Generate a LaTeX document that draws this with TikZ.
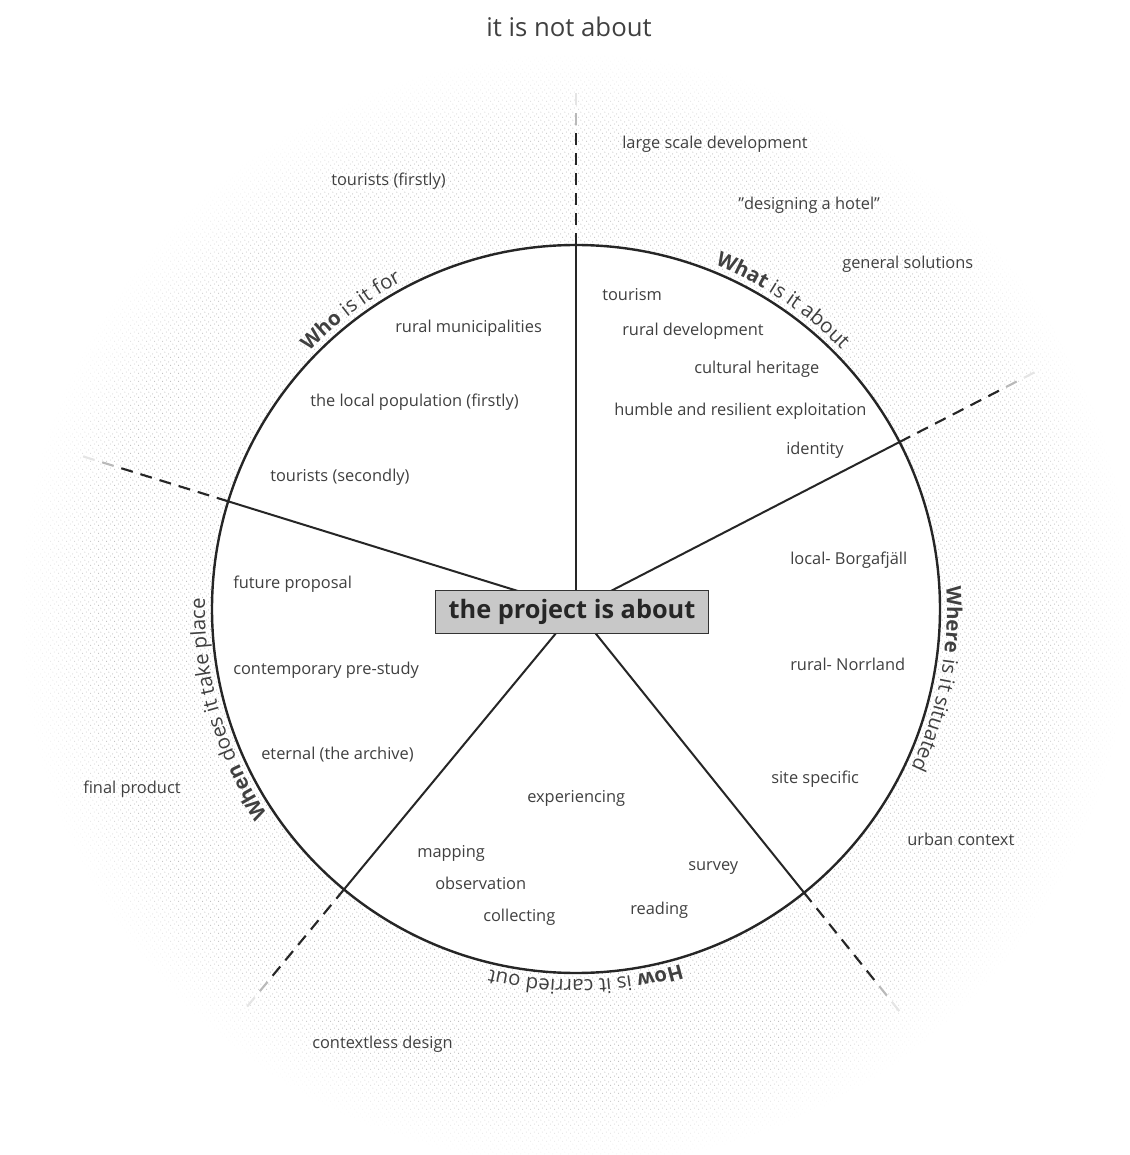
\documentclass[tikz,border=0pt]{standalone}
\usepackage{fontspec}
\setmainfont{Open Sans}
\usepackage{tikz}
\usetikzlibrary{decorations.text,patterns,fadings}

\definecolor{ink}{HTML}{404040}
\definecolor{hubgray}{HTML}{C8C8C8}

\pgfdeclarepatternformonly{stipple}{\pgfqpoint{-1pt}{-1pt}}{\pgfqpoint{7pt}{7pt}}{\pgfqpoint{6pt}{6pt}}{%
  \pgfpathcircle{\pgfqpoint{0.5pt}{0.8pt}}{0.4pt}%
  \pgfpathcircle{\pgfqpoint{3.6pt}{2.1pt}}{0.4pt}%
  \pgfpathcircle{\pgfqpoint{1.9pt}{4.3pt}}{0.4pt}%
  \pgfpathcircle{\pgfqpoint{4.8pt}{5.2pt}}{0.4pt}%
  \pgfusepath{fill}}

\newcommand{\bodyfont}{\fontsize{12.3}{14}\selectfont}
\newcommand{\arcfont}{\fontsize{15.3}{17}\selectfont\color{ink}}

\tikzset{
  item/.style={anchor=mid west, inner sep=0pt, yshift=-2.25pt, text=ink, font=\bodyfont},
  hub/.style={draw=black!80, fill=hubgray, line width=0.9pt, minimum width=205pt,
    minimum height=32pt, inner sep=0pt, font=\fontsize{19}{21}\selectfont\bfseries, text=black!85},
  spoke/.style={line width=1.5pt, black!85},
  rimdash/.style={line width=1.6pt, black!85, dash pattern=on 9pt off 6pt},
}

\begin{document}
\begin{tikzpicture}[x=0.75pt, y=0.75pt]
  \useasboundingbox (-576,-546) rectangle (553,609);
  % Background
  \fill[pattern=stipple, pattern color=gray!60, path fading=circle with fuzzy edge 15 percent] (0,0) circle[radius=556];
  \fill[white] (0,0) circle[radius=364];
  \draw[line width=1.8pt, black!85] (0,0) circle[radius=364];

  % Define nodes
  \coordinate (core) at (0,0);
  \coordinate (whoWhat) at (90:364);
  \coordinate (whatWhere) at (27.3:364);
  \coordinate (whereHow) at (-51.2:364);
  \coordinate (howWhen) at (230.4:364);
  \coordinate (whenWho) at (162.8:364);

  % Connect nodes
  \draw[spoke] (core) -- (whoWhat);
  \draw[spoke] (core) -- (whatWhere);
  \draw[spoke] (core) -- (whereHow);
  \draw[spoke] (core) -- (howWhen);
  \draw[spoke] (core) -- (whenWho);

  \node[hub] (hub) at (-4,-3) {the project is about};
  \node[text=ink, font=\fontsize{19.3}{22}\selectfont] (title) at (-7,582) {it is not about};

  % Dividers beyond the rim
  \draw[rimdash] (whoWhat) -- (90:484); \draw[rimdash, gray!55] (90:484) -- (90:504); \draw[rimdash, gray!20] (90:504) -- (90:524);
  \draw[rimdash] (whatWhere) -- (27.3:484); \draw[rimdash, gray!55] (27.3:484) -- (27.3:504); \draw[rimdash, gray!20] (27.3:504) -- (27.3:524);
  \draw[rimdash] (whereHow) -- (-51.2:484); \draw[rimdash, gray!55] (-51.2:484) -- (-51.2:504); \draw[rimdash, gray!20] (-51.2:504) -- (-51.2:524);
  \draw[rimdash] (howWhen) -- (230.4:484); \draw[rimdash, gray!55] (230.4:484) -- (230.4:504); \draw[rimdash, gray!20] (230.4:504) -- (230.4:524);
  \draw[rimdash] (whenWho) -- (162.8:484); \draw[rimdash, gray!55] (162.8:484) -- (162.8:504); \draw[rimdash, gray!20] (162.8:504) -- (162.8:524);

  % Questions round the rim
  \path[decorate, decoration={text along path, text={|\arcfont\bfseries|Who|\arcfont| is it for}}]
    (136:371) arc[start angle=136, end angle=95, radius=371];
  \path[decorate, decoration={text along path, text={|\arcfont\bfseries|What|\arcfont| is it about}}]
    (68:371) arc[start angle=68, end angle=25, radius=371];
  \path[decorate, decoration={text along path, text={|\arcfont\bfseries|Where|\arcfont| is it situated}}]
    (3.5:371) arc[start angle=3.5, end angle=-45, radius=371];
  \path[decorate, decoration={text along path, text={|\arcfont\bfseries|How|\arcfont| is it carried out}}]
    (-73.6:371) arc[start angle=-73.6, end angle=-125, radius=371];
  \path[decorate, decoration={text along path, text={|\arcfont\bfseries|When|\arcfont| does it take place}}]
    (213.7:371) arc[start angle=213.7, end angle=160, radius=371];

  % Who
  \node[item] (who1) at (-181,283) {rural municipalities};
  \node[item] (who2) at (-266,209) {the local population (firstly)};
  \node[item] (who3) at (-306,134) {tourists (secondly)};
  % What
  \node[item] (what1) at (26,315) {tourism};
  \node[item] (what2) at (46,280) {rural development};
  \node[item] (what3) at (118,242) {cultural heritage};
  \node[item] (what4) at (38,200) {humble and resilient exploitation};
  \node[item] (what5) at (210,161) {identity};
  % Where
  \node[item] (where1) at (214,51) {local- Borgafjäll};
  \node[item] (where2) at (214,-55) {rural- Norrland};
  \node[item] (where3) at (195,-168) {site specific};
  % How
  \node[item] (how1) at (-49,-187) {experiencing};
  \node[item] (how2) at (-159,-242) {mapping};
  \node[item] (how3) at (-141,-274) {observation};
  \node[item] (how4) at (-93,-306) {collecting};
  \node[item] (how5) at (112,-255) {survey};
  \node[item] (how6) at (54,-299) {reading};
  % When
  \node[item] (when1) at (-343,27) {future proposal};
  \node[item] (when2) at (-343,-59) {contemporary pre-study};
  \node[item] (when3) at (-315,-144) {eternal (the archive)};

  % Not about
  \node[item] (not1) at (46,467) {large scale development};
  \node[item] (not2) at (162,406) {”designing a hotel”};
  \node[item] (not3) at (266,347) {general solutions};
  \node[item] (not4) at (-245,430) {tourists (firstly)};
  \node[item] (not5) at (-493,-178) {final product};
  \node[item] (not6) at (331,-230) {urban context};
  \node[item] (not7) at (-264,-433) {contextless design};
\end{tikzpicture}
\end{document}
